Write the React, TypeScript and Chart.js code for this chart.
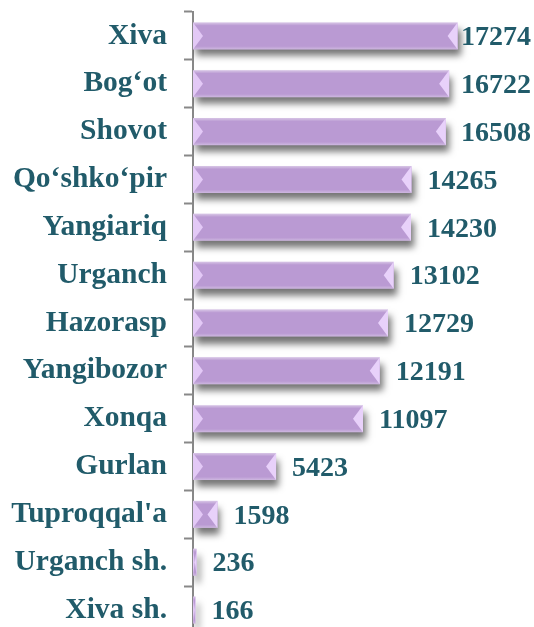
import React, { useEffect, useRef } from 'react';
import { Chart, registerables } from 'chart.js';

Chart.register(...registerables);

const categories = ['Xiva', 'Bog‘ot', 'Shovot', 'Qo‘shko‘pir', 'Yangiariq', 'Urganch', 'Hazorasp', 'Yangibozor', 'Xonqa', 'Gurlan', "Tuproqqal'a", 'Urganch sh.', 'Xiva sh.'];
const values = [17274, 16722, 16508, 14265, 14230, 13102, 12729, 12191, 11097, 5423, 1598, 236, 166];

const TEXT = '#215B6A';
const FONT_FAMILY = '"Liberation Serif", "Times New Roman", serif';

const bevelPlugin = {
  id: 'bevel',
  beforeDatasetsDraw(chart: any) {
    const ctx = chart.ctx;
    ctx.save();
    ctx.shadowColor = 'rgba(0,0,0,0.55)';
    ctx.shadowBlur = 7;
    ctx.shadowOffsetX = 3;
    ctx.shadowOffsetY = 7;
  },
  afterDatasetsDraw(chart: any) {
    const ctx = chart.ctx;
    ctx.restore();
    const meta = chart.getDatasetMeta(0);
    meta.data.forEach((bar: any, i: number) => {
      const { x, y, base, height } = bar.getProps(['x', 'y', 'base', 'height'], true);
      const x0 = base, x1 = x;
      const top = y - height / 2, bot = y + height / 2;
      const w = x1 - x0;
      const d = Math.min(10, w / 2);
      ctx.save();
      const g = ctx.createLinearGradient(0, top, 0, bot);
      g.addColorStop(0, 'rgba(255,255,255,0.45)');
      g.addColorStop(0.12, 'rgba(255,255,255,0)');
      g.addColorStop(0.88, 'rgba(255,255,255,0)');
      g.addColorStop(1, 'rgba(255,255,255,0.3)');
      ctx.fillStyle = g;
      ctx.fillRect(x0, top, w, height);
      ctx.fillStyle = '#E3C9F6';
      ctx.beginPath();
      ctx.moveTo(x0, top);
      ctx.lineTo(x0 + d, y);
      ctx.lineTo(x0, bot);
      ctx.closePath();
      ctx.fill();
      ctx.fillStyle = '#E8D1FA';
      ctx.beginPath();
      ctx.moveTo(x1, top);
      ctx.lineTo(x1 - d, y);
      ctx.lineTo(x1, bot);
      ctx.closePath();
      ctx.fill();
      ctx.restore();

      ctx.save();
      ctx.font = `bold 28px ${FONT_FAMILY}`;
      ctx.fillStyle = TEXT;
      ctx.textBaseline = 'middle';
      ctx.textAlign = 'left';
      const label = String(values[i]);
      const tw = ctx.measureText(label).width;
      const lx = Math.min(x1 + 16, 531 - tw);
      ctx.fillText(label, lx, y + 2);
      ctx.restore();
    });
  },
};

export default function App() {
  const ref = useRef<HTMLCanvasElement>(null);
  useEffect(() => {
    if (!ref.current) return;
    const chart = new Chart(ref.current, {
      type: 'bar',
      data: {
        labels: categories,
        datasets: [
          {
            data: values,
            backgroundColor: '#BA9AD3',
            borderWidth: 0,
            barPercentage: 0.565,
            categoryPercentage: 1,
          },
        ],
      },
      options: {
        indexAxis: 'y',
        responsive: false,
        animation: false,
        devicePixelRatio: 1,
        layout: { padding: { top: 12, bottom: 2, left: 0, right: 4 } },
        plugins: { legend: { display: false }, tooltip: { enabled: false } },
        scales: {
          x: { display: false, min: 0, max: 22000 },
          y: {
            afterFit(scale: any) {
              scale.width = 193;
              scale.paddingTop = 0;
              scale.paddingBottom = 0;
            },
            border: { display: true, color: '#888888', width: 2 },
            grid: {
              drawOnChartArea: false,
              drawTicks: true,
              tickLength: 9,
              tickColor: '#888888',
              tickWidth: 2,
              offset: true,
            },
            ticks: {
              color: TEXT,
              padding: 17,
              font: { family: FONT_FAMILY, size: 29.5, weight: 'bold' },
            },
          },
        },
      },
      plugins: [bevelPlugin],
    } as any);
    return () => chart.destroy();
  }, []);
  return (
    <div style={{ position: 'absolute', left: 0, top: 0, width: 534, height: 627, overflow: 'hidden', background: '#fff' }}>
      <canvas ref={ref} width={534} height={636} style={{ display: 'block', width: 534, height: 636 }} />
    </div>
  );
}
